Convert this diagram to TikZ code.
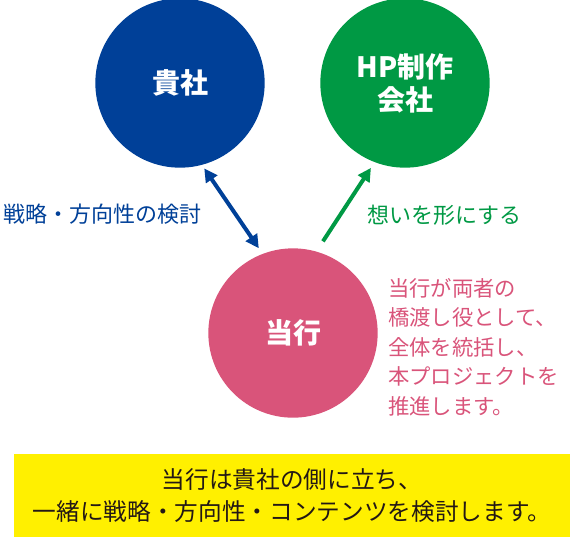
\documentclass[tikz,border=0pt]{standalone}
\usepackage{fontspec}
\setmainfont{Noto Sans CJK JP}
\usetikzlibrary{arrows.meta,positioning}
\definecolor{kishablue}{RGB}{0,64,152}
\definecolor{seisakugreen}{RGB}{0,153,68}
\definecolor{tougyoupink}{RGB}{217,84,122}
\definecolor{noteyellow}{RGB}{255,240,0}
\definecolor{notetext}{RGB}{35,24,21}

\begin{document}
\begin{tikzpicture}[x=0.75pt,y=-0.75pt,
    party/.style={circle, minimum size=127pt, inner sep=0pt, text=white, align=center, font=\fontsize{21}{24.75}\selectfont\bfseries},
    link/.style={line width=3pt, arrows={-Triangle[length=10pt,width=10pt]}},
    twoway/.style={link, arrows={Triangle[length=10pt,width=10pt]-Triangle[length=10pt,width=10pt]}},
    remark/.style={inner sep=0pt, font=\fontsize{16.5}{22.1}\selectfont}
]
    \useasboundingbox (0,0) rectangle (570,537);

    \node[party, fill=kishablue] (kisha) at (180,83) {貴社};
    \node[party, fill=seisakugreen] (seisaku) at (405,83) {HP制作\\会社};
    \node[party, fill=tougyoupink] (tougyou) at (293,333) {当行};

    \draw[twoway, kishablue, shorten <=3pt, shorten >=5pt] (kisha.-75) -- (tougyou.111);
    \draw[link, seisakugreen, shorten <=9pt, shorten >=5pt] (tougyou.74) -- (seisaku.-111);

    \node[remark, text=kishablue, anchor=west] (kentou) at (3,214) {戦略・方向性の検討};
    \node[remark, text=seisakugreen, anchor=west] (omoi) at (367,215) {想いを形にする};
    \node[remark, text=tougyoupink, anchor=west, align=left, font=\fontsize{16}{22.1}\selectfont] (yakuwari) at (388,347) {当行が両者の\\橋渡し役として、\\全体を統括し、\\本プロジェクトを\\推進します。};

    \node[fill=noteyellow, minimum width=417pt, minimum height=62.25pt, inner sep=0pt, align=center,
        text=notetext, font=\fontsize{17.75}{24}\selectfont] (matome) at (292,495.5)
        {当行は貴社の側に立ち、\\一緒に戦略・方向性・コンテンツを検討します。};
\end{tikzpicture}
\end{document}
